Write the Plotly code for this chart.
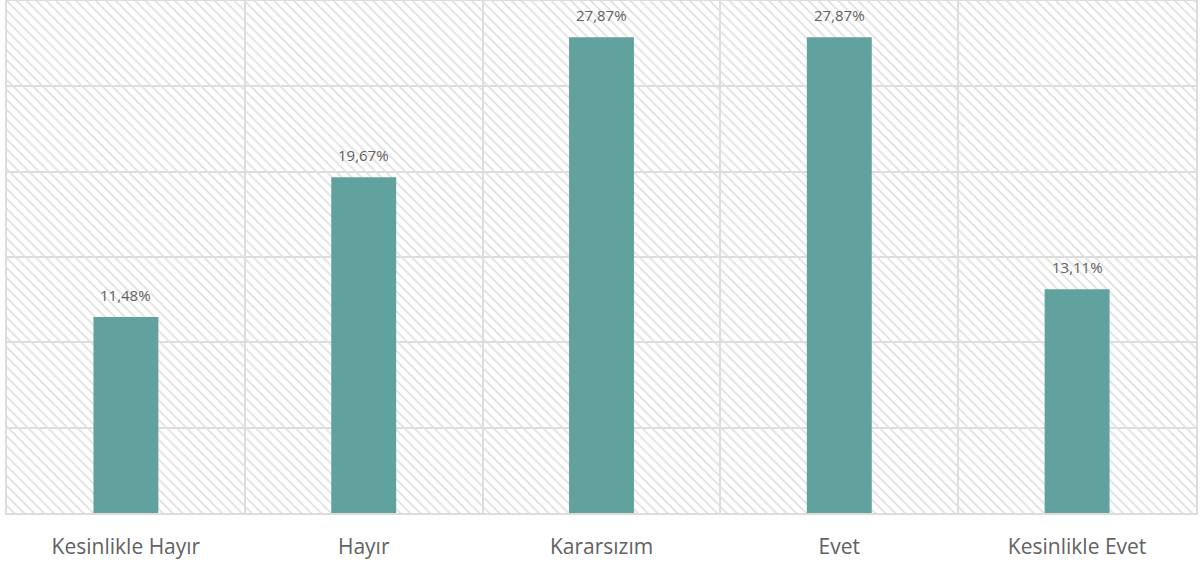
import plotly.graph_objects as go

categories = ["Kesinlikle Hayır", "Hayır", "Kararsızım", "Evet", "Kesinlikle Evet"]
values = [11.48, 19.67, 27.87, 27.87, 13.11]
y_max = 30
y_step = 5

bar_color = "#62a29e"
grid_color = "#dcdcdc"
text_color = "#626262"
font_family = "'Open Sans', 'Noto Sans', sans-serif"

fig = go.Figure()

# hatched background (one cell per category), transparent so the grid shows through
fig.add_trace(go.Bar(
    x=categories, y=[y_max] * len(categories), width=1,
    marker=dict(color="rgba(0,0,0,0)", line=dict(width=0),
                pattern=dict(shape="\\", fgcolor="#e0e0e0", bgcolor="rgba(0,0,0,0)",
                             size=7, solidity=0.25, fillmode="replace")),
    hoverinfo="skip", showlegend=False,
))

fig.add_trace(go.Bar(
    x=categories, y=values, width=0.273,
    marker=dict(color=bar_color, line=dict(width=0)),
    showlegend=False,
))

for c, v in zip(categories, values):
    fig.add_annotation(x=c, y=v, text=f"{v:.2f}%".replace(".", ","),
                       showarrow=False, yanchor="bottom", yshift=10,
                       font=dict(size=15, color=text_color, family=font_family))

fig.update_layout(
    barmode="overlay",
    width=1204, height=566,
    margin=dict(l=7, r=8, t=1, b=53, autoexpand=False),
    paper_bgcolor="white", plot_bgcolor="white",
    separators=",.",
    xaxis=dict(type="category", tickson="boundaries", showgrid=True,
               gridcolor=grid_color, gridwidth=2, ticks="", automargin=False,
               showline=True, linecolor=grid_color, linewidth=2, mirror=True,
               tickfont=dict(size=21, color=text_color, family=font_family),
               ticklabelstandoff=14),
    yaxis=dict(range=[0, y_max], dtick=y_step, showgrid=True, automargin=False,
               gridcolor=grid_color, gridwidth=2, showticklabels=False,
               zeroline=False, showline=True, linecolor=grid_color,
               linewidth=2, mirror=True),
)

fig.write_html("out.html", config={"displayModeBar": False},
               post_script="document.body.style.margin='0';")
